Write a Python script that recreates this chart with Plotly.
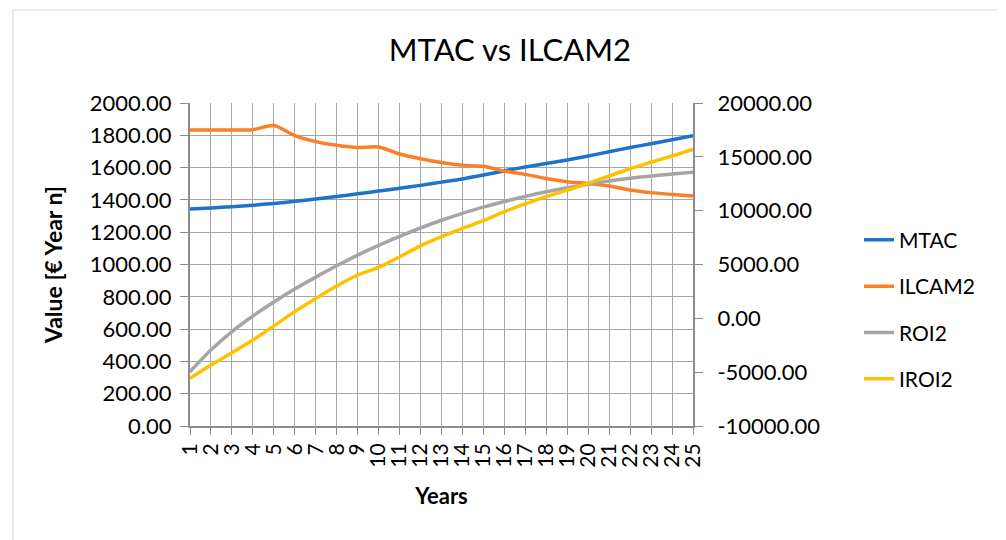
import plotly.graph_objects as go

years = list(range(1, 26))
year_labels = [str(y) for y in years]

mtac = [1344, 1350, 1358, 1367, 1378, 1391, 1406, 1421, 1438, 1455, 1472, 1490, 1510,
        1530, 1554, 1580, 1604, 1625, 1647, 1672, 1698, 1724, 1748, 1773, 1798]
ilcam2 = [1833, 1833, 1833, 1835, 1860, 1798, 1761, 1738, 1724, 1728, 1684, 1655, 1631,
          1614, 1608, 1578, 1558, 1532, 1513, 1501, 1486, 1461, 1445, 1434, 1424]
roi2 = [-4960, -2950, -1240, 215, 1520, 2720, 3830, 4880, 5870, 6770, 7610, 8390, 9110,
        9755, 10325, 10850, 11330, 11750, 12125, 12455, 12755, 13010, 13220, 13400, 13565]
iroi2 = [-5575, -4330, -3190, -2020, -700, 620, 1850, 3005, 4025, 4730, 5720, 6725, 7580,
         8360, 9065, 9905, 10625, 11300, 11915, 12530, 13220, 13895, 14495, 15080, 15695]

left_ticks = list(range(0, 2001, 200))
right_ticks = list(range(-10000, 20001, 5000))

series = [
    ("MTAC", mtac, "y", "#1f72c8"),
    ("ILCAM2", ilcam2, "y", "#fd7e27"),
    ("ROI2", roi2, "y2", "#a5a5a5"),
    ("IROI2", iroi2, "y2", "#ffc000"),
]

FONT = "Lato"
fig = go.Figure()
for name, vals, ax, col in series:
    fig.add_trace(go.Scatter(
        x=years, y=vals, name=name, yaxis=ax, mode="lines",
        line=dict(color=col, width=3.5, shape="spline", smoothing=0.7),
        legendgroup=name,
    ))

grid = "#a6a6a6"
axline = "#8c8c8c"
fig.update_layout(
    width=1006, height=540,
    margin=dict(l=182, r=321, t=95, b=122),
    paper_bgcolor="white", plot_bgcolor="white",
    font=dict(family=FONT, color="#000000", size=21),
    title=dict(text="MTAC vs ILCAM2", x=0.636, xanchor="center", xref="paper",
               y=0.922, yanchor="middle", font=dict(size=31, family=FONT)),
    xaxis=dict(
        range=[1, 25], tickmode="array", tickvals=years, ticktext=year_labels,
        tickangle=-90, showgrid=True, gridcolor=grid, gridwidth=1.3,
        showline=True, linecolor=axline, linewidth=2, ticks="outside", ticklen=7,
        tickcolor=axline, zeroline=False,
        tickfont=dict(size=21, family=FONT),
        title=dict(text="<b>Years</b>", font=dict(size=22, family=FONT), standoff=22),
    ),
    yaxis=dict(
        range=[0, 2000], tickmode="array", tickvals=left_ticks,
        ticktext=[f"{v:.2f}" for v in left_ticks], showgrid=True, gridcolor=grid,
        gridwidth=1.3, showline=True, linecolor=axline, linewidth=2, ticks="outside",
        ticklen=8, tickcolor=axline, zeroline=False, ticklabelstandoff=4,
        tickfont=dict(size=22, family=FONT),
        title=dict(text="<b>Value [€ Year n]</b>", font=dict(size=23, family=FONT), standoff=21),
    ),
    yaxis2=dict(
        range=[-10000, 20000], tickmode="array", tickvals=right_ticks,
        ticktext=[f"{v:.2f}" for v in right_ticks], overlaying="y", side="right",
        showgrid=False, showline=True, linecolor=axline, linewidth=2, ticks="outside",
        ticklen=8, tickcolor=axline, zeroline=False, ticklabelstandoff=10,
        tickfont=dict(size=22, family=FONT),
    ),
    legend=dict(x=1.33, xanchor="left", y=0.36, yanchor="middle", traceorder="grouped",
                tracegroupgap=16, font=dict(size=21, family=FONT), bgcolor="rgba(0,0,0,0)"),
    showlegend=True,
)

fig.add_shape(type="rect", xref="paper", yref="paper", x0=-0.352, x1=1.64, y0=-0.37, y1=1.288,
              line=dict(color="#d9d9d9", width=1.2), fillcolor="rgba(0,0,0,0)", layer="below")

fig.write_html("out.html")
